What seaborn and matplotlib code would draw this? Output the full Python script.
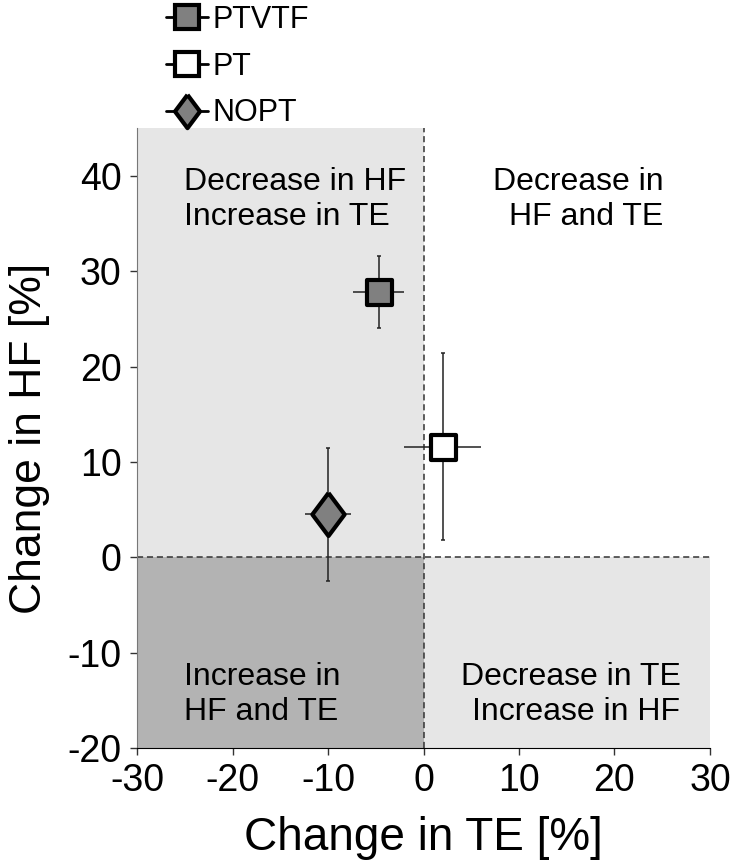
import numpy as np
import pandas as pd
import seaborn as sns
import matplotlib.pyplot as plt
from matplotlib.lines import Line2D

# values
groups = ["PTVTF", "PT", "NOPT"]
te_change = [-4.7, 2.0, -10.0]
hf_change = [27.8, 11.6, 4.5]
te_err = [2.7, 4.0, 2.4]
hf_err = [3.8, 9.8, 7.0]
fills = ["#808080", "#ffffff", "#808080"]

xticks = [-30, -20, -10, 0, 10, 20, 30]
yticks = [-20, -10, 0, 10, 20, 30, 40]

# (x, y of last line baseline, text, alignment)
quadrant_notes = [
    (-25.1, 34.8, "Decrease in HF\nIncrease in TE", "left"),
    (25.1, 34.8, "Decrease in\nHF and TE", "right"),
    (-25.1, -17.1, "Increase in\nHF and TE", "left"),
    (26.9, -17.1, "Decrease in TE\nIncrease in HF", "right"),
]

df = pd.DataFrame({"group": groups, "te": te_change, "hf": hf_change,
                   "te_err": te_err, "hf_err": hf_err})

sns.set_style("white")
plt.rcParams["font.family"] = ["Liberation Sans", "DejaVu Sans"]
plt.rcParams["axes.unicode_minus"] = False
plt.rcParams["text.color"] = "black"
plt.rcParams["axes.labelcolor"] = "black"
plt.rcParams["xtick.color"] = "black"
plt.rcParams["ytick.color"] = "black"

diamond = [(0, 1), (0.75, 0), (0, -1), (-0.75, 0), (0, 1)]
markers = {"PTVTF": "s", "PT": "s", "NOPT": diamond}
sizes = {"PTVTF": 18, "PT": 18, "NOPT": 31}

fig = plt.figure(figsize=(7.33, 8.66), dpi=100)
ax = fig.add_axes([0.187, 0.1363, 0.7816, 0.7157])

xmin, xmax, ymin, ymax = -30, 30, -20, 45
# quadrant shading
ax.fill_between([xmin, 0], 0, ymax, color="#e6e6e6", lw=0, zorder=0)
ax.fill_between([xmin, 0], ymin, 0, color="#b3b3b3", lw=0, zorder=0)
ax.fill_between([0, xmax], ymin, 0, color="#e6e6e6", lw=0, zorder=0)
ax.axvline(0, color="#333333", lw=1.1, ls=(0, (4, 2.5)), zorder=1)
ax.axhline(0, color="#333333", lw=1.1, ls=(0, (4, 2.5)), zorder=1)

# vertical bars with tiny caps, horizontal without
ax.errorbar(df["te"], df["hf"], yerr=df["hf_err"], fmt="none", ecolor="#222222",
            elinewidth=1.1, capsize=1.5, capthick=1.1, zorder=2)
ax.errorbar(df["te"], df["hf"], xerr=df["te_err"], fmt="none", ecolor="#222222",
            elinewidth=1.1, capsize=0, zorder=2)

for i, row in df.iterrows():
    sns.scatterplot(x=[row["te"]], y=[row["hf"]], ax=ax, marker=markers[row["group"]],
                    s=sizes[row["group"]] ** 2, color=fills[i], edgecolor="black",
                    linewidth=3, zorder=3, legend=False)

for x, y, txt, ha in quadrant_notes:
    ax.text(x, y, txt, ha=ha, va="baseline", multialignment=ha,
            fontsize=23, linespacing=1.25, color="black", zorder=4)

ax.set_xlim(xmin, xmax)
ax.set_ylim(ymin, ymax)
ax.set_xticks(xticks)
ax.set_yticks(yticks)
ax.tick_params(axis="both", labelsize=27, direction="out", length=5,
               width=1, color="#333333", bottom=True, left=True, pad=6)
sns.despine(ax=ax, top=True, right=True)
ax.spines["left"].set_color("#777777")
ax.spines["bottom"].set_color("black")
ax.set_xlabel("Change in TE [%]", fontsize=33, labelpad=12)
ax.set_ylabel("Change in HF [%]", fontsize=32, labelpad=13)

handles = [
    Line2D([], [], color="black", lw=2, marker="s", markersize=17,
           markerfacecolor=fills[0], markeredgecolor="black", markeredgewidth=3),
    Line2D([], [], color="black", lw=2, marker="s", markersize=17,
           markerfacecolor=fills[1], markeredgecolor="black", markeredgewidth=3),
    Line2D([], [], color="black", lw=2, marker=diamond, markersize=24,
           markerfacecolor=fills[2], markeredgecolor="black", markeredgewidth=3),
]
fig.legend(handles, groups, loc="upper left", bbox_to_anchor=(0.205, 1.012),
           frameon=False, fontsize=22, handlelength=1.4, handletextpad=0.15,
           labelspacing=0.55, borderpad=0)

fig.savefig("out.png", dpi=100)
